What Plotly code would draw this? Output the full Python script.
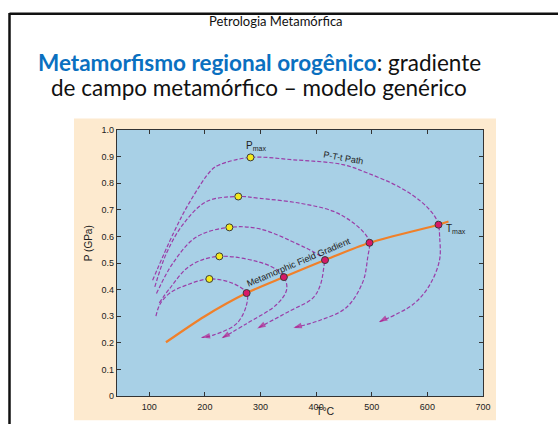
import plotly.graph_objects as go

# ---------------- data ----------------
path1_T = [106, 143, 173, 212, 227, 282, 359, 448, 490, 550, 592, 613, 620, 622, 622, 604, 574, 513]
path1_P = [0.435, 0.61, 0.73, 0.85, 0.87, 0.897, 0.888, 0.87, 0.84, 0.785, 0.725, 0.676, 0.644, 0.60, 0.513, 0.417, 0.344, 0.278]

path2_T = [110, 131, 161, 203, 260, 299, 370, 430, 466, 490, 496, 493, 484, 454, 406, 359]
path2_P = [0.41, 0.537, 0.646, 0.731, 0.75, 0.743, 0.725, 0.695, 0.652, 0.604, 0.576, 0.525, 0.429, 0.332, 0.284, 0.256]

path3_T = [113, 143, 185, 244, 299, 370, 394, 416, 415, 408, 394, 353, 294]
path3_P = [0.385, 0.501, 0.598, 0.634, 0.628, 0.568, 0.543, 0.511, 0.501, 0.42, 0.368, 0.32, 0.254]

path4_T = [118, 137, 173, 226, 317, 342, 347, 329, 275, 230]
path4_P = [0.35, 0.405, 0.489, 0.525, 0.489, 0.447, 0.40, 0.344, 0.272, 0.217]

path5_T = [112, 119, 137, 167, 208, 251, 275, 275, 257, 215, 194]
path5_P = [0.30, 0.344, 0.387, 0.417, 0.44, 0.423, 0.387, 0.344, 0.272, 0.229, 0.22]

pmax_T = [282, 260, 244, 226, 208]
pmax_P = [0.897, 0.75, 0.634, 0.525, 0.44]

tmax_T = [275, 342, 416, 496, 620]
tmax_P = [0.387, 0.447, 0.511, 0.576, 0.644]

gradient_T = [130, 200, 275, 342, 416, 496, 620, 638]
gradient_P = [0.202, 0.30, 0.387, 0.447, 0.511, 0.576, 0.644, 0.656]

x_ticks = [100, 200, 300, 400, 500, 600, 700]
y_ticks = [0, 0.1, 0.2, 0.3, 0.4, 0.5, 0.6, 0.7, 0.8, 0.9, 1.0]
y_ticktext = ["0", "0.1", "0.2", "0.3", "0.4", "0.5", "0.6", "0.7", "0.8", "0.9", "1.0"]

slide_header = "Petrologia Metamórfica"
title_blue = "Metamorfismo regional orogênico"
title_rest1 = ": gradiente"
title_line2 = "de campo metamórfico – modelo genérico"

# ---------------- layout geometry ----------------
W, H = 558, 424
L, R, T, B = 117, 483, 130, 405   # plot area in window pixels


def xp(px):
    return (px - L) / (R - L)


def yp(py):
    return (B - py) / (B - T)


PATH_COLOR = "#9a3ea8"
ARROW_COLOR = "#b3208f"

fig = go.Figure()

paths = [(path1_T, path1_P), (path2_T, path2_P), (path3_T, path3_P),
         (path4_T, path4_P), (path5_T, path5_P)]

# orange metamorphic field gradient
fig.add_trace(go.Scatter(x=gradient_T, y=gradient_P, mode="lines",
                         line=dict(color="#f0802a", width=2.2, shape="spline", smoothing=0.8),
                         hoverinfo="skip", showlegend=False))

for pt, pp in paths:
    fig.add_trace(go.Scatter(x=pt, y=pp, mode="lines",
                             line=dict(color=PATH_COLOR, width=1.2, dash="4px,2px",
                                       shape="spline", smoothing=1.0),
                             hoverinfo="skip", showlegend=False))
    fig.add_trace(go.Scatter(x=pt[-2:], y=pp[-2:], mode="markers",
                             marker=dict(symbol="arrow", size=[0, 9], color=ARROW_COLOR,
                                         angleref="previous", line=dict(width=0)),
                             hoverinfo="skip", showlegend=False))

fig.add_trace(go.Scatter(x=pmax_T, y=pmax_P, mode="markers",
                         marker=dict(color="#f4ea1c", size=7, line=dict(color="#3a3a3a", width=1)),
                         hoverinfo="skip", showlegend=False))
fig.add_trace(go.Scatter(x=tmax_T, y=tmax_P, mode="markers",
                         marker=dict(color="#d81866", size=7, line=dict(color="#3a3a3a", width=1)),
                         hoverinfo="skip", showlegend=False))

label_font = dict(family="Liberation Sans, Arial", size=9, color="#222")
slide_font = "Lato, Noto Sans"

annotations = [
    dict(x=pmax_T[0], y=pmax_P[0], xref="x", yref="y", text="P<sub>max</sub>",
         showarrow=False, xanchor="center", yanchor="bottom", yshift=3, xshift=5,
         font=dict(family="Liberation Sans, Arial", size=10, color="#222")),
    dict(x=tmax_T[-1], y=tmax_P[-1], xref="x", yref="y", text="T<sub>max</sub>",
         showarrow=False, xanchor="left", yanchor="middle", xshift=5, yshift=-4,
         font=dict(family="Liberation Sans, Arial", size=10, color="#222")),
    dict(x=450, y=0.893, xref="x", yref="y", text="P-T-t Path", textangle=10,
         showarrow=False, xanchor="center", yanchor="middle", font=label_font),
    dict(x=370, y=0.503, xref="x", yref="y", text="Metamorphic Field Gradient",
         textangle=-23, showarrow=False, xanchor="center", yanchor="middle", font=label_font),
    # axis titles
    dict(x=xp(88), y=yp(247), xref="paper", yref="paper", text="P (GPa)", textangle=-90,
         showarrow=False, xanchor="center", yanchor="middle",
         font=dict(family="Liberation Sans, Arial", size=10, color="#222")),
    dict(x=xp(325), y=yp(420), xref="paper", yref="paper", text="T°C",
         showarrow=False, xanchor="center", yanchor="middle", borderpad=0,
         font=dict(family="Liberation Sans, Arial", size=10.5, color="#222")),
    # slide text
    dict(x=xp(276), y=yp(17), xref="paper", yref="paper", text=slide_header,
         showarrow=False, xanchor="center", yanchor="middle",
         font=dict(family=slide_font, size=13, color="#111")),
    dict(x=xp(259), y=yp(60), xref="paper", yref="paper",
         text="<b><span style='color:#0a70c0'>" + title_blue + "</span></b>" + title_rest1,
         showarrow=False, xanchor="center", yanchor="middle",
         font=dict(family=slide_font, size=22.5, color="#111")),
    dict(x=xp(259), y=yp(86.5), xref="paper", yref="paper", text=title_line2,
         showarrow=False, xanchor="center", yanchor="middle",
         font=dict(family=slide_font, size=22.5, color="#111")),
]

shapes = [
    # beige frame of the figure
    dict(type="rect", xref="paper", yref="paper", x0=xp(74), x1=xp(496), y0=yp(430), y1=yp(118),
         fillcolor="#fdeacf", line=dict(width=0), layer="below"),
    # blue plotting area
    dict(type="rect", xref="paper", yref="paper", x0=0, x1=1, y0=0, y1=1,
         fillcolor="#a8d0e6", line=dict(width=0), layer="below"),
    # slide border (top and left)
    dict(type="line", xref="paper", yref="paper", x0=xp(9.5), x1=xp(570), y0=yp(9.8), y1=yp(9.8),
         line=dict(color="#111", width=2.5)),
    dict(type="line", xref="paper", yref="paper", x0=xp(9.5), x1=xp(9.5), y0=yp(9), y1=yp(440),
         line=dict(color="#111", width=2.5)),
]

axis_common = dict(showgrid=False, zeroline=False, showline=True, mirror="ticks",
                   linecolor="#333", linewidth=1.3, ticks="inside", ticklen=4,
                   tickcolor="#333", tickwidth=1,
                   tickfont=dict(family="Liberation Sans, Arial", size=9, color="#222"))

fig.update_layout(
    width=W, height=H,
    margin=dict(l=L, r=W - R, t=T, b=H - B, pad=0),
    paper_bgcolor="white", plot_bgcolor="rgba(0,0,0,0)",
    xaxis=dict(range=[42, 700], tickvals=x_ticks, ticklabelstandoff=2, **axis_common),
    yaxis=dict(range=[0, 1.0], tickvals=y_ticks, ticktext=y_ticktext, **axis_common),
    annotations=annotations, shapes=shapes, showlegend=False,
)

# remove the browser's default 8px body margin so the figure fills the window exactly
fig.write_html("out.html", config={"displayModeBar": False},
               post_script="document.body.style.margin='0';document.body.style.overflow='hidden';")
